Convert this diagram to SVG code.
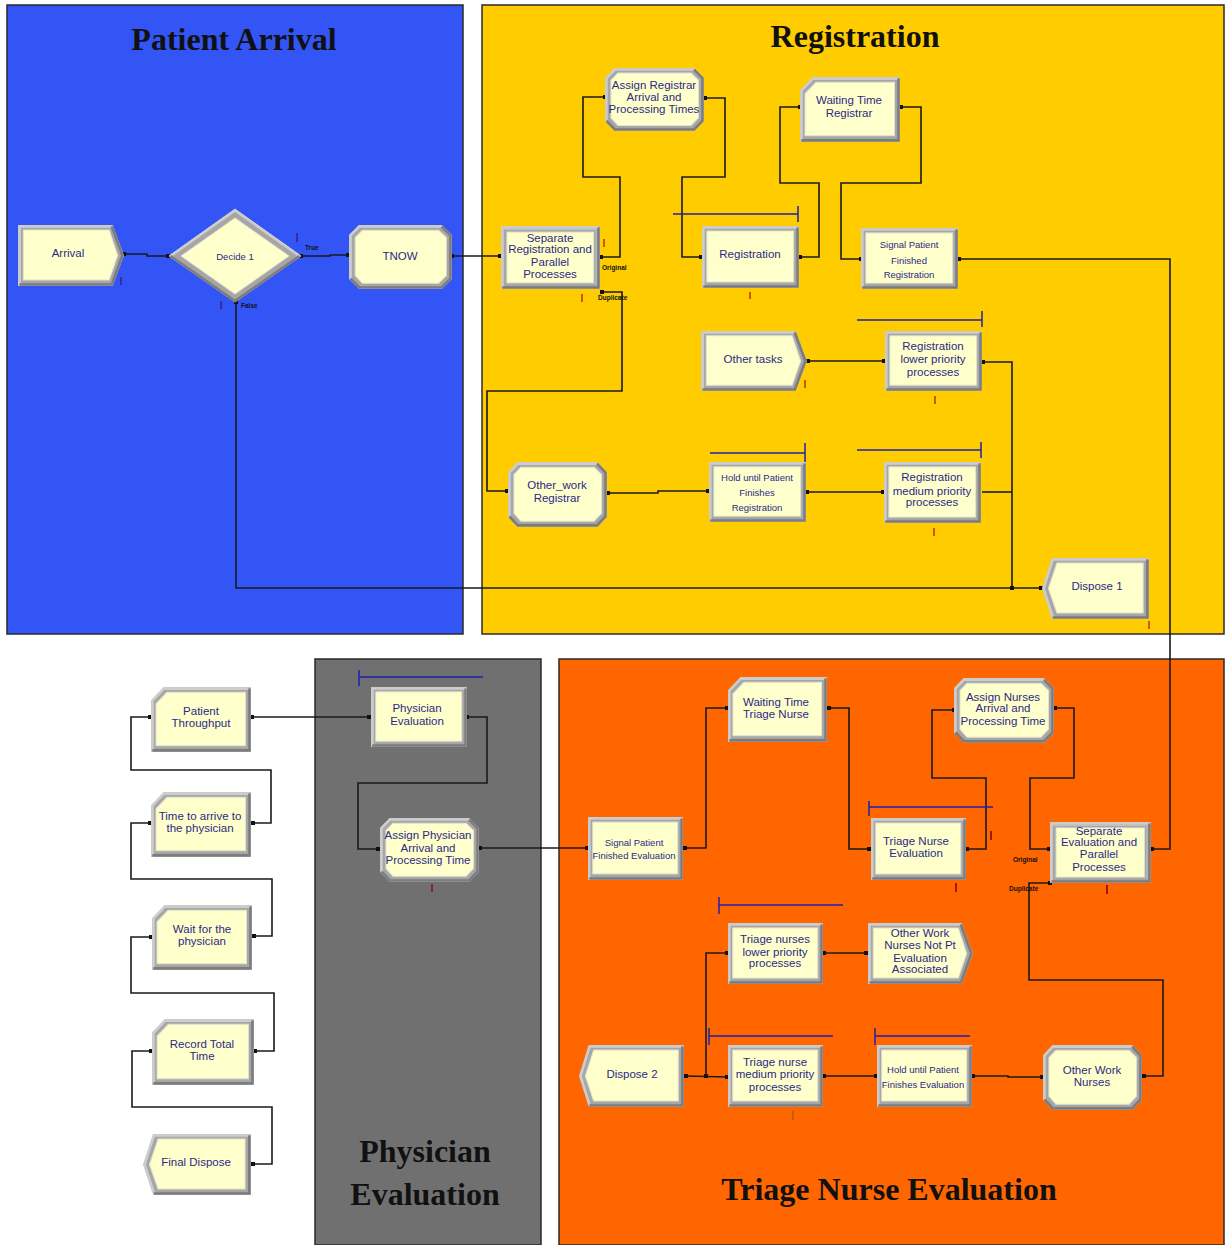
<svg xmlns="http://www.w3.org/2000/svg" xmlns:xlink="http://www.w3.org/1999/xlink" width="1225" height="1245" viewBox="0 0 1225 1245">
<style>
.region{stroke:#2a2a2a;stroke-width:1.5}
.title{font-family:"Liberation Serif","Times New Roman",serif;font-weight:bold;font-size:32px;fill:#111;text-anchor:middle}
.t{font-family:"Liberation Sans",Arial,sans-serif;font-size:11.5px;fill:#2a2a86;text-anchor:middle}
.s{font-family:"Liberation Sans",Arial,sans-serif;font-size:9.5px;fill:#2a2a86;text-anchor:middle}
.lbl{font-family:"Liberation Sans",Arial,sans-serif;font-size:6.5px;font-weight:bold;fill:#111}
.c{fill:none;stroke:#1a1a1a;stroke-width:1.6;marker-start:url(#dot);marker-end:url(#dot)}
.cn{fill:none;stroke:#1a1a1a;stroke-width:1.6}
.res{fill:none;stroke:#1f1fb0;stroke-width:1.5}
.qo{fill:#c85a00}
.qb{fill:#3030a0}
.ob{fill:#a6a6a6;stroke:#c6c6c6;stroke-width:1}
.dk{fill:none;stroke:#7c7c7c;stroke-width:2.5}
.hl{fill:none;stroke:#cdcdcd;stroke-width:2.5}
.in{fill:#ffffcc;stroke:#e2e2d0;stroke-width:1}
</style>
<defs>
<marker id="dot" viewBox="0 0 4 4" refX="2" refY="2" markerWidth="4" markerHeight="4" markerUnits="userSpaceOnUse"><rect width="4" height="4" fill="#111"/></marker>
<symbol id="proc" viewBox="0 0 100 62" preserveAspectRatio="none">
<rect class="ob" x="0.5" y="0.5" width="99" height="61"/>
<polyline class="hl" points="1.5,60 1.5,1.5 98,1.5"/>
<polyline class="dk" points="98.5,1.5 98.5,60.5 1.5,60.5"/>
<rect class="in" x="5" y="5" width="89.5" height="51"/>
</symbol>
<symbol id="sep" viewBox="0 0 100 62" preserveAspectRatio="none">
<rect class="ob" x="0.5" y="0.5" width="99" height="61"/>
<polyline class="hl" points="1.5,60 1.5,1.5 98,1.5"/>
<polyline class="dk" points="98.5,1.5 98.5,60.5 1.5,60.5"/>
<polyline points="3.5,3.5 96,3.5 96,58" fill="none" stroke="#c2c2c2" stroke-width="1"/>
<rect class="in" x="6" y="6" width="87.5" height="50"/>
</symbol>
<symbol id="create" viewBox="0 0 100 62" preserveAspectRatio="none">
<polygon class="ob" points="0.5,0.5 89,0.5 99.5,31 89,61.5 0.5,61.5"/>
<polyline class="hl" points="1.5,60 1.5,1.5 88,1.5"/>
<polyline class="dk" points="88.5,1.5 98.5,31 88.5,60.5 1.5,60.5"/>
<polygon class="in" points="5,5 86,5 94,31 86,56 5,56"/>
</symbol>
<symbol id="dispose" viewBox="0 0 100 62" preserveAspectRatio="none">
<polygon class="ob" points="10,0.5 99.5,0.5 99.5,61.5 10,61.5 0.5,31"/>
<polyline class="hl" points="10,60 1.5,31 10,1.5 98,1.5"/>
<polyline class="dk" points="98.5,1.5 98.5,60.5 10,60.5"/>
<polygon class="in" points="14,5 94.5,5 94.5,56 14,56 6,31"/>
</symbol>
<symbol id="assign" viewBox="0 0 100 62" preserveAspectRatio="none">
<polygon class="ob" points="10,0.5 90,0.5 99.5,10 99.5,52 90,61.5 10,61.5 0.5,52 0.5,10"/>
<polyline class="hl" points="1.5,52 1.5,10 10,1.5 90,1.5"/>
<polyline class="dk" points="90,1.5 98.5,10 98.5,52 90,60.5 10,60.5 1.5,52"/>
<polygon class="in" points="13,5 87,5 94.5,12 94.5,49 87,56.5 13,56.5 6,49 6,12"/>
</symbol>
<symbol id="record" viewBox="0 0 100 62" preserveAspectRatio="none">
<polygon class="ob" points="13,0.5 99.5,0.5 99.5,61.5 0.5,61.5 0.5,13"/>
<polyline class="hl" points="1.5,60 1.5,13 13,1.5 98,1.5"/>
<polyline class="dk" points="98.5,1.5 98.5,60.5 1.5,60.5"/>
<polygon class="in" points="16,5 94.5,5 94.5,56 5,56 5,16"/>
</symbol>
</defs>

<g id="regions">
<rect class="region" x="7" y="5" width="456" height="629" fill="#3355f5"/>
<rect class="region" x="482" y="5" width="742" height="629" fill="#ffcc00"/>
<rect class="region" x="315" y="659" width="226" height="586" fill="#707070"/>
<rect class="region" x="559" y="659" width="665" height="586" fill="#ff6600"/>
<text class="title" x="234" y="50">Patient Arrival</text>
<text class="title" x="855" y="47">Registration</text>
<text class="title" x="425" y="1162">Physician</text>
<text class="title" x="425" y="1205">Evaluation</text>
<text class="title" x="889" y="1200">Triage Nurse Evaluation</text>
</g>

<g id="connectors">
<polyline class="c" points="124,254 147,254 147,256 168,256"/>
<polyline class="c" points="301,256 330,256 330,255 348,255"/>
<polyline class="c" points="236,302 236,588 1041,588"/>
<polyline class="c" points="452,256 500,256"/>
<polyline class="c" points="601,257 620,257 620,177 583,177 583,97 605,97"/>
<polyline class="c" points="705,98 725,98 725,177 682,177 682,257 701,257"/>
<polyline class="c" points="800,257 819,257 819,183 780,183 780,107 800,107"/>
<polyline class="c" points="901,107 921,107 921,183 841,183 841,259 861,259"/>
<polyline class="c" points="959,259 1170,259 1170,849 1152,849"/>
<polyline class="c" points="602,292 622,292 622,391 487,391 487,491 507,491"/>
<polyline class="c" points="608,493 658,493 658,491 708,491"/>
<polyline class="c" points="807,492 883,492"/>
<polyline class="c" points="808,361 884,361"/>
<polyline class="c" points="983,362 1012,362 1012,588"/>
<polyline class="cn" points="982,492 1012,492"/>
<polyline class="c" points="480,848 587,848"/>
<polyline class="c" points="467,717 487,717 487,783 358,783 358,849 378,849"/>
<polyline class="c" points="252,717 369,717"/>
<polyline class="c" points="150,717 131,717 131,770 271,770 271,823 253,823"/>
<polyline class="c" points="150,823 131,823 131,879 272,879 272,936 254,936"/>
<polyline class="c" points="151,937 131,937 131,993 274,993 274,1051 255,1051"/>
<polyline class="c" points="151,1051 132,1051 132,1107 272,1107 272,1164 253,1164"/>
<polyline class="c" points="685,848 706,848 706,708 727,708"/>
<polyline class="c" points="829,708 849,708 849,849 869,849"/>
<polyline class="c" points="967,849 986,849 986,778 932,778 932,710 954,710"/>
<polyline class="c" points="1055,708 1074,708 1074,778 1030,778 1030,849 1049,849"/>
<polyline class="c" points="1050,883 1029,883 1029,980 1163,980 1163,1076 1144,1076"/>
<polyline class="c" points="1042,1077 1008,1077 1008,1076 973,1076"/>
<polyline class="c" points="876,1076 824,1076"/>
<polyline class="c" points="686,1076 727,1077"/>
<polyline class="c" points="706,1076 706,953 727,953"/>
<polyline class="c" points="824,953 866,953"/>
</g>

<g id="resources">
<path class="res" d="M673,214H798M798,206V222"/>
<path class="res" d="M857,320H982M982,311V327"/>
<path class="res" d="M710,453H805M805,443V462"/>
<path class="res" d="M857,450H981M981,442V458"/>
<path class="res" d="M359,677H483M359,670V686"/>
<path class="res" d="M869,807H993M869,801V816"/>
<path class="res" d="M719,905H843M719,897V914"/>
<path class="res" d="M709,1036H833M709,1028V1045"/>
<path class="res" d="M875,1036H970M875,1028V1045"/>
</g>

<g id="labels">
<text class="lbl" x="305" y="250">True</text>
<text class="lbl" x="241" y="308">False</text>
<text class="lbl" x="602" y="270">Original</text>
<text class="lbl" x="598" y="300">Duplicate</text>
<text class="lbl" x="1013" y="862">Original</text>
<text class="lbl" x="1009" y="891">Duplicate</text>
</g>

<g id="queues">
<rect class="qb" x="120" y="277" width="2" height="8"/>
<rect class="qb" x="296" y="233" width="2" height="9"/>
<rect class="qb" x="220" y="301" width="2" height="8"/>
<rect class="qo" x="603" y="239" width="2" height="8"/>
<rect class="qo" x="581" y="294" width="2" height="8"/>
<rect class="qo" x="749" y="292" width="2" height="7"/>
<rect class="qo" x="804" y="380" width="2" height="8"/>
<rect class="qo" x="934" y="396" width="2" height="8"/>
<rect class="qo" x="933" y="528" width="2" height="8"/>
<rect class="qo" x="1148" y="621" width="2" height="8"/>
<rect x="431" y="884" width="2" height="8" fill="#8a2020"/>
<rect x="990" y="831" width="2" height="9" fill="#a01818"/>
<rect x="955" y="883" width="2" height="9" fill="#a01818"/>
<rect x="1106" y="885" width="2" height="9" fill="#a01818"/>
<rect class="qo" x="792" y="968" width="2" height="8"/>
<rect class="qo" x="792" y="1111" width="2" height="9"/>
<rect class="qb" x="612" y="1091" width="2" height="8"/>
</g>

<g id="arrival"><use xlink:href="#create" href="#create" x="18" y="225" width="106" height="61"/><text class="t" x="68" y="257">Arrival</text></g>
<g id="decide1">
<polygon points="169,256 235,209 301,256 235,302" fill="#a6a6a6" stroke="#c6c6c6"/>
<polyline points="170.5,256 235,210.5 299.5,256" fill="none" stroke="#cdcdcd" stroke-width="2.5"/>
<polyline points="170.5,256 235,301 299.5,256" fill="none" stroke="#7c7c7c" stroke-width="2.5"/>
<polygon points="181,256 235,218 289,256 235,294" fill="#ffffcc" stroke="#e2e2d0"/>
<text class="t" x="235" y="259.5" style="font-size:9.5px">Decide 1</text>
</g>
<g id="tnow"><use xlink:href="#assign" href="#assign" x="349" y="225" width="103" height="64"/><text class="t" x="400" y="260">TNOW</text></g>
<g id="sepReg"><use xlink:href="#sep" href="#sep" x="501" y="226" width="99" height="63"/><text class="t" x="550"><tspan x="550" y="242">Separate</tspan><tspan x="550" y="253">Registration and</tspan><tspan x="550" y="266">Parallel</tspan><tspan x="550" y="278">Processes</tspan></text></g>
<g id="assignReg"><use xlink:href="#assign" href="#assign" x="605" y="68" width="99" height="63"/><text class="t" x="654"><tspan x="654" y="89">Assign Registrar</tspan><tspan x="654" y="101">Arrival and</tspan><tspan x="654" y="113">Processing Times</tspan></text></g>
<g id="waitReg"><use xlink:href="#record" href="#record" x="800" y="77" width="100" height="65"/><text class="t" x="849"><tspan x="849" y="104">Waiting Time</tspan><tspan x="849" y="117">Registrar</tspan></text></g>
<g id="registration"><use xlink:href="#proc" href="#proc" x="702" y="226" width="97" height="62"/><text class="t" x="750" y="258">Registration</text></g>
<g id="signalReg"><use xlink:href="#proc" href="#proc" x="861" y="228" width="97" height="61"/><text class="s" x="909"><tspan x="909" y="247.5">Signal Patient</tspan><tspan x="909" y="263.5">Finished</tspan><tspan x="909" y="277.5">Registration</tspan></text></g>
<g id="otherTasks"><use xlink:href="#create" href="#create" x="701" y="331" width="106" height="60"/><text class="t" x="753" y="363">Other tasks</text></g>
<g id="regLower"><use xlink:href="#proc" href="#proc" x="885" y="331" width="97" height="60"/><text class="t" x="933"><tspan x="933" y="350">Registration</tspan><tspan x="933" y="363">lower priority</tspan><tspan x="933" y="375.5">processes</tspan></text></g>
<g id="otherWorkReg"><use xlink:href="#assign" href="#assign" x="508" y="462" width="99" height="65"/><text class="t" x="557"><tspan x="557" y="489">Other_work</tspan><tspan x="557" y="502">Registrar</tspan></text></g>
<g id="holdReg"><use xlink:href="#proc" href="#proc" x="709" y="462" width="97" height="60"/><text class="s" x="757"><tspan x="757" y="481">Hold until Patient</tspan><tspan x="757" y="496">Finishes</tspan><tspan x="757" y="510.5">Registration</tspan></text></g>
<g id="regMedium"><use xlink:href="#proc" href="#proc" x="884" y="462" width="97" height="61"/><text class="t" x="932"><tspan x="932" y="481">Registration</tspan><tspan x="932" y="494.5">medium priority</tspan><tspan x="932" y="506">processes</tspan></text></g>
<g id="dispose1"><use xlink:href="#dispose" href="#dispose" x="1042" y="558" width="107" height="61"/><text class="t" x="1097" y="590">Dispose 1</text></g>

<g id="physEval"><use xlink:href="#proc" href="#proc" x="371" y="687" width="96" height="60"/><text class="t" x="417"><tspan x="417" y="711.5">Physician</tspan><tspan x="417" y="724.5">Evaluation</tspan></text></g>
<g id="assignPhys"><use xlink:href="#assign" href="#assign" x="380" y="818" width="99" height="64"/><text class="t" x="428"><tspan x="428" y="839">Assign Physician</tspan><tspan x="428" y="852">Arrival and</tspan><tspan x="428" y="864">Processing Time</tspan></text></g>
<g id="throughput"><use xlink:href="#record" href="#record" x="151" y="687" width="100" height="65"/><text class="t" x="201"><tspan x="201" y="714.5">Patient</tspan><tspan x="201" y="727">Throughput</tspan></text></g>
<g id="timeArrive"><use xlink:href="#record" href="#record" x="151" y="792" width="100" height="65"/><text class="t" x="200"><tspan x="200" y="820">Time to arrive to</tspan><tspan x="200" y="831.5">the physician</tspan></text></g>
<g id="waitPhys"><use xlink:href="#record" href="#record" x="152" y="905" width="100" height="65"/><text class="t" x="202"><tspan x="202" y="933">Wait for the</tspan><tspan x="202" y="945">physician</tspan></text></g>
<g id="recordTotal"><use xlink:href="#record" href="#record" x="152" y="1019" width="102" height="66"/><text class="t" x="202"><tspan x="202" y="1048">Record Total</tspan><tspan x="202" y="1059.5">Time</tspan></text></g>
<g id="finalDispose"><use xlink:href="#dispose" href="#dispose" x="143" y="1134" width="108" height="61"/><text class="t" x="196" y="1166">Final Dispose</text></g>

<g id="signalEval"><use xlink:href="#proc" href="#proc" x="588" y="817" width="95" height="63"/><text class="s" x="634"><tspan x="634" y="846">Signal Patient</tspan><tspan x="634" y="859">Finished Evaluation</tspan></text></g>
<g id="waitTriage"><use xlink:href="#record" href="#record" x="728" y="677" width="99" height="65"/><text class="t" x="776"><tspan x="776" y="705.5">Waiting Time</tspan><tspan x="776" y="718">Triage Nurse</tspan></text></g>
<g id="triageEval"><use xlink:href="#proc" href="#proc" x="871" y="818" width="95" height="62"/><text class="t" x="916"><tspan x="916" y="844.5">Triage Nurse</tspan><tspan x="916" y="857">Evaluation</tspan></text></g>
<g id="assignNurses"><use xlink:href="#assign" href="#assign" x="954" y="678" width="100" height="65"/><text class="t" x="1003"><tspan x="1003" y="700.5">Assign Nurses</tspan><tspan x="1003" y="712">Arrival and</tspan><tspan x="1003" y="724.5">Processing Time</tspan></text></g>
<g id="sepEval"><use xlink:href="#sep" href="#sep" x="1050" y="822" width="101" height="61"/><text class="t" x="1099"><tspan x="1099" y="834.5">Separate</tspan><tspan x="1099" y="846">Evaluation and</tspan><tspan x="1099" y="858">Parallel</tspan><tspan x="1099" y="871">Processes</tspan></text></g>
<g id="triageLower"><use xlink:href="#proc" href="#proc" x="728" y="923" width="95" height="61"/><text class="t" x="775"><tspan x="775" y="943">Triage nurses</tspan><tspan x="775" y="956">lower priority</tspan><tspan x="775" y="967">processes</tspan></text></g>
<g id="otherWorkNotPt"><use xlink:href="#create" href="#create" x="868" y="923" width="105" height="61"/><text class="t" x="920"><tspan x="920" y="936.5">Other Work</tspan><tspan x="920" y="949">Nurses Not Pt</tspan><tspan x="920" y="961.5">Evaluation</tspan><tspan x="920" y="973">Associated</tspan></text></g>
<g id="dispose2"><use xlink:href="#dispose" href="#dispose" x="579" y="1045" width="105" height="62"/><text class="t" x="632" y="1078">Dispose 2</text></g>
<g id="triageMedium"><use xlink:href="#proc" href="#proc" x="728" y="1045" width="95" height="62"/><text class="t" x="775"><tspan x="775" y="1065.5">Triage nurse</tspan><tspan x="775" y="1078">medium priority</tspan><tspan x="775" y="1090.5">processes</tspan></text></g>
<g id="holdEval"><use xlink:href="#proc" href="#proc" x="877" y="1045" width="95" height="62"/><text class="s" x="923"><tspan x="923" y="1073">Hold until Patient</tspan><tspan x="923" y="1087.5">Finishes Evaluation</tspan></text></g>
<g id="otherWorkNurses"><use xlink:href="#assign" href="#assign" x="1043" y="1045" width="99" height="65"/><text class="t" x="1092"><tspan x="1092" y="1074">Other Work</tspan><tspan x="1092" y="1085.5">Nurses</tspan></text></g>
</svg>
